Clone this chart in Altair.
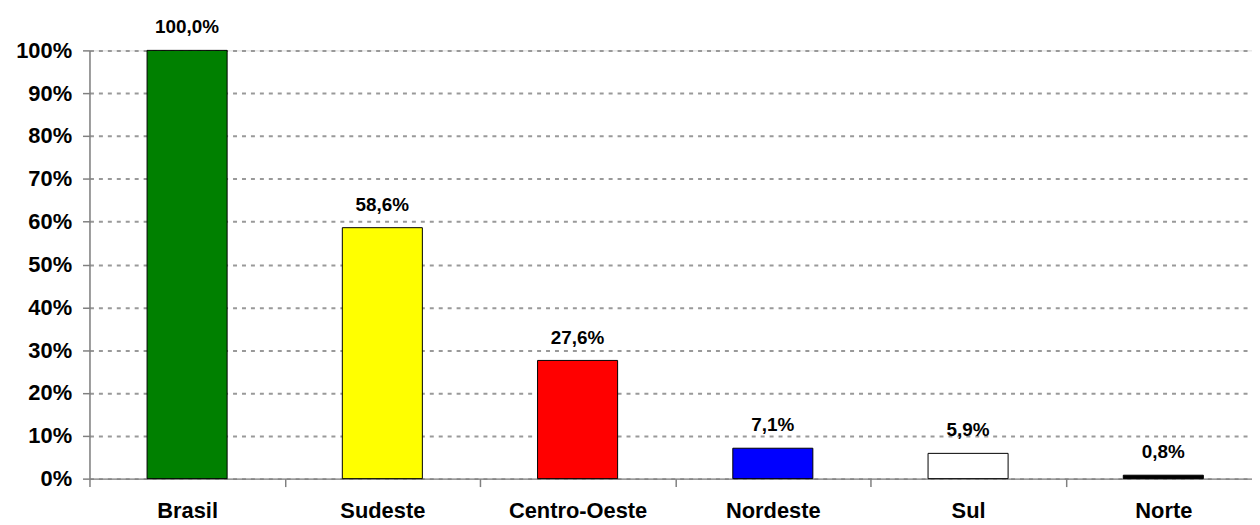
import altair as alt
import pandas as pd

regions = ["Brasil", "Sudeste", "Centro-Oeste", "Nordeste", "Sul", "Norte"]
values = [100.0, 58.6, 27.6, 7.1, 5.9, 0.8]
labels = ["100,0%", "58,6%", "27,6%", "7,1%", "5,9%", "0,8%"]
colors = ["#008000", "#FFFF00", "#FF0000", "#0000FF", "#FFFFFF", "#000000"]
y_ticks = [0, 10, 20, 30, 40, 50, 60, 70, 80, 90, 100]

df = pd.DataFrame({"regiao": regions, "valor": values, "rotulo": labels, "cor": colors})

FONT = "Liberation Sans"

x = alt.X("regiao:N", sort=regions, title=None,
          scale=alt.Scale(paddingInner=0, paddingOuter=0, range=[0, 1179]),
          axis=alt.Axis(labelAngle=0, labelFont=FONT, labelFontSize=22, labelFontWeight="bold",
                        labelColor="#000000", labelPadding=14, tickBand="extent",
                        tickColor="#808080", tickSize=8, tickWidth=1.5,
                        domainColor="#808080", domainWidth=1.5, grid=False))
y = alt.Y("valor:Q", title=None,
          scale=alt.Scale(domain=[0, 100], nice=False),
          axis=alt.Axis(values=y_ticks, labelExpr="datum.value + '%'", labelFont=FONT,
                        labelFontSize=22, labelFontWeight="bold", labelColor="#000000",
                        labelPadding=11, tickColor="#808080", tickSize=7, tickWidth=1.5,
                        domainColor="#808080", domainWidth=1.5,
                        grid=True, gridColor="#999999", gridDash=[4, 5], gridWidth=2))

bars = alt.Chart(df).mark_bar(width=alt.RelativeBandSize(0.41), stroke="#000000", strokeWidth=1).encode(
    x=x, y=y, fill=alt.Fill("cor:N", scale=None))

text = alt.Chart(df).mark_text(font=FONT, fontSize=19, fontWeight="bold", baseline="alphabetic",
                               dy=-17, color="#000000").encode(
    x=alt.X("regiao:N", sort=regions), y="valor:Q", text="rotulo:N")

chart = (bars + text).properties(
    width=1170, height=431,
    autosize=alt.AutoSizeParams(type="none"),
    padding={"left": 82, "top": 41, "right": 0, "bottom": 44},
).configure_view(stroke=None).configure(background="#FFFFFF")

chart.save("out.html", embed_options={"renderer": "svg", "actions": False})
